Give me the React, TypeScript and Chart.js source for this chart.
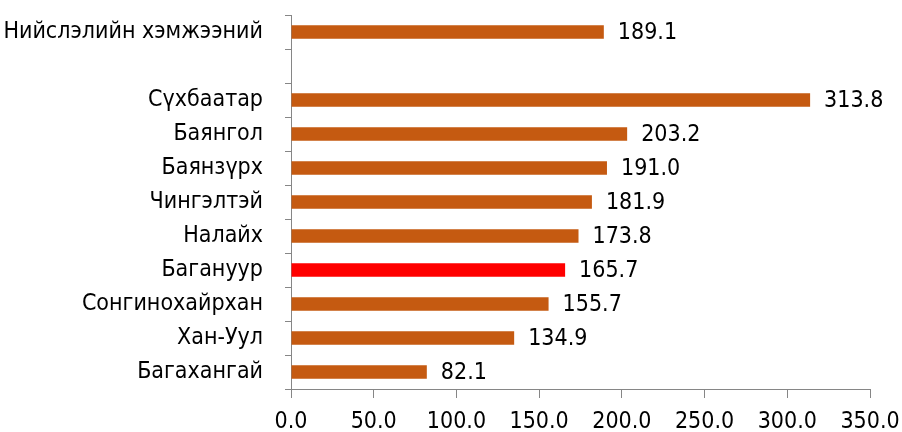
import React, { useEffect, useRef } from "react";
import { Chart, registerables } from "chart.js";

Chart.register(...registerables);

const categories: string[] = [
  "Нийслэлийн хэмжээний",
  "",
  "Сүхбаатар",
  "Баянгол",
  "Баянзүрх",
  "Чингэлтэй",
  "Налайх",
  "Багануур",
  "Сонгинохайрхан",
  "Хан-Уул",
  "Багахангай",
];

const values: (number | null)[] = [189.1, null, 313.8, 203.2, 191.0, 181.9, 173.8, 165.7, 155.7, 134.9, 82.1];

const highlighted: string[] = ["Багануур"];

const xTicks: number[] = [0, 50, 100, 150, 200, 250, 300, 350];

const BAR = "#C55A11";
const HIGHLIGHT = "#FF0000";
const AXIS = "#868686";
const TEXT = "#000000";
const FONT = "'DejaVu Sans Condensed', 'DejaVu Sans', sans-serif";
const FONT_SIZE = 23;

const valueLabels = {
  id: "valueLabels",
  afterDatasetsDraw(chart: any) {
    const ctx = chart.ctx;
    const meta = chart.getDatasetMeta(0);
    ctx.save();
    ctx.font = `${FONT_SIZE}px ${FONT}`;
    ctx.fillStyle = TEXT;
    ctx.textAlign = "left";
    ctx.textBaseline = "middle";
    meta.data.forEach((el: any, i: number) => {
      const v = values[i];
      if (v === null || v === undefined) return;
      ctx.fillText(v.toFixed(1), el.x + 14, el.y + 1);
    });
    ctx.restore();
  },
};

export default function App() {
  const ref = useRef<HTMLCanvasElement | null>(null);

  useEffect(() => {
    if (!ref.current) return;
    const chart = new Chart(ref.current, {
      type: "bar",
      data: {
        labels: categories,
        datasets: [
          {
            data: values,
            backgroundColor: categories.map((c) => (highlighted.includes(c) ? HIGHLIGHT : BAR)),
            borderWidth: 0,
            barPercentage: 0.39,
            categoryPercentage: 1,
          },
        ],
      },
      options: {
        indexAxis: "y",
        animation: false,
        responsive: false,
        maintainAspectRatio: false,
        layout: { padding: { top: 15, left: 0, right: 32, bottom: 0 } },
        plugins: {
          legend: { display: false },
          tooltip: { enabled: false },
          title: { display: false },
        },
        scales: {
          x: {
            type: "linear",
            min: 0,
            max: 350,
            afterBuildTicks(scale: any) {
              scale.ticks = xTicks.map((v) => ({ value: v }));
            },
            afterFit(scale: any) {
              scale.height = 43;
              scale.paddingLeft = 0;
              scale.paddingRight = 0;
            },
            ticks: {
              color: TEXT,
              font: { family: FONT, size: FONT_SIZE },
              padding: 10,
              maxRotation: 0,
              autoSkip: false,
              callback: (v: any) => Number(v).toFixed(1),
            },
            grid: {
              drawOnChartArea: false,
              drawTicks: true,
              tickLength: 9,
              color: AXIS,
            },
            border: { display: true, color: AXIS, width: 1 },
          },
          y: {
            afterFit(scale: any) {
              scale.width = 291;
              scale.paddingTop = 0;
              scale.paddingBottom = 0;
            },
            ticks: {
              color: TEXT,
              font: { family: FONT, size: FONT_SIZE },
              padding: 22,
              autoSkip: false,
            },
            grid: {
              offset: true,
              drawOnChartArea: false,
              drawTicks: true,
              tickLength: 6,
              color: AXIS,
            },
            border: { display: true, color: AXIS, width: 1 },
          },
        },
      },
      plugins: [valueLabels],
    });
    return () => chart.destroy();
  }, []);

  return (
    <div style={{ position: "fixed", left: 0, top: 0, width: 902, height: 432, background: "#fff" }}>
      <canvas ref={ref} width={902} height={432} style={{ width: 902, height: 432 }} />
    </div>
  );
}
